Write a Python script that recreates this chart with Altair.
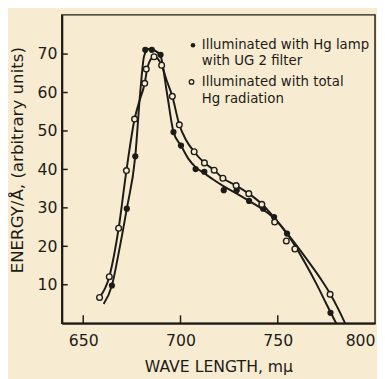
import altair as alt
import pandas as pd

# ---- data ----
# measured points, Hg lamp with UG 2 filter (filled circles)
filt_x = [664.75, 672.4, 676.75, 681.9, 685.25, 689.75, 696.4, 700.25, 707.75,
          712.25, 722.25, 728.9, 735.25, 742.5, 748.1, 754.75, 777.1]
filt_y = [9.8, 29.8, 43.4, 71.1, 71.1, 69.8, 49.7, 46.2, 40.1,
          39.4, 34.6, 34.6, 31.8, 29.8, 27.6, 23.3, 2.7]

# measured points, total Hg radiation (open circles)
tot_x = [658.4, 663.4, 668.2, 672.2, 676.4, 681.6, 682.4, 686.4, 690.3, 695.8,
         699.4, 707.0, 712.3, 717.3, 721.8, 728.6, 735.1, 741.8, 748.4, 754.4,
         758.8, 776.9]
tot_y = [6.7, 12.1, 24.7, 39.7, 53.1, 62.4, 66.1, 69.3, 67.1, 59.0,
         51.6, 44.6, 41.7, 39.8, 37.7, 35.8, 33.7, 30.9, 26.3, 21.4,
         19.3, 7.5]

# hand-drawn curves
filt_curve_x = [660.5, 664.75, 668.5, 672.4, 676.75, 679.3, 681.3, 683.5, 686.5,
                689.75, 693.0, 696.4, 700.25, 704.0, 707.75, 712.25, 717.0,
                722.25, 728.9, 735.25, 742.0, 748.1, 754.75, 760.0, 765.0,
                770.0, 775.0, 780.0]
filt_curve_y = [5.0, 9.8, 19.0, 29.8, 43.4, 60.0, 69.5, 71.3, 71.0,
                69.5, 60.0, 49.7, 46.2, 42.8, 40.6, 39.0, 37.3,
                35.6, 33.7, 31.8, 29.7, 27.3, 23.3, 19.2, 14.8,
                10.1, 5.0, 0.0]

tot_curve_x = [658.4, 663.4, 668.2, 672.2, 676.4, 679.0, 681.6, 682.8, 684.5,
               686.4, 690.3, 693.0, 695.8, 699.4, 703.0, 707.0, 712.3, 717.3,
               721.8, 728.6, 735.1, 741.8, 748.4, 754.4, 760.0, 766.0, 772.0,
               777.0, 781.0, 784.6]
tot_curve_y = [6.7, 12.1, 24.7, 39.7, 53.1, 58.0, 62.4, 66.0, 68.5,
               69.3, 67.1, 63.0, 59.0, 51.6, 47.5, 44.6, 41.7, 39.8,
               37.7, 35.8, 33.7, 31.0, 27.3, 23.6, 20.0, 15.9, 11.6,
               7.6, 3.8, 0.0]

x_ticks = [650, 700, 750, 800]
y_ticks = [10, 20, 30, 40, 50, 60, 70]

legend_lines = ["Illuminated with Hg lamp", "with UG 2 filter",
                "Illuminated with total", "Hg radiation"]

# ---- chart ----
INK = "#1d1b17"
BG = "#f7ecd2"
FONT = "DejaVu Sans"
W, H = 320, 315

xs = alt.Scale(domain=[639, 800], nice=False)
ys = alt.Scale(domain=[0, 80.2], nice=False)

xenc = alt.X("x:Q", scale=xs,
             axis=alt.Axis(values=x_ticks, title="WAVE LENGTH, mμ", ticks=False,
                           grid=False, labelPadding=10, titlePadding=10,
                           format="d"))
yenc = alt.Y("y:Q", scale=ys,
             axis=alt.Axis(values=y_ticks, title="ENERGY/Å, (arbitrary units)",
                           ticks=False, grid=False, labelPadding=5,
                           titleAngle=270, titleAlign="center",
                           titleBaseline="middle", titleX=-45, titleY=148,
                           titleFontSize=17))

df_filt = pd.DataFrame({"x": filt_x, "y": filt_y})
df_tot = pd.DataFrame({"x": tot_x, "y": tot_y})
df_fc = pd.DataFrame({"x": filt_curve_x, "y": filt_curve_y})
df_tc = pd.DataFrame({"x": tot_curve_x, "y": tot_curve_y})

line_f = alt.Chart(df_fc).mark_line(color=INK, strokeWidth=2,
                                    interpolate="monotone").encode(x=xenc, y=yenc)
line_t = alt.Chart(df_tc).mark_line(color=INK, strokeWidth=2,
                                    interpolate="monotone").encode(x="x:Q", y="y:Q")
pts_f = alt.Chart(df_filt).mark_point(shape="circle", filled=True, color=INK,
                                      size=40, opacity=1).encode(x="x:Q", y="y:Q")
pts_t = alt.Chart(df_tot).mark_point(shape="circle", filled=True, fill=BG,
                                     stroke=INK, strokeWidth=1.4, size=34,
                                     opacity=1).encode(x="x:Q", y="y:Q")

xt = alt.Chart(pd.DataFrame({"x": x_ticks[:-1]})).mark_rule(
    color=INK, strokeWidth=1.5).encode(x="x:Q", y=alt.value(H), y2=alt.value(H - 8))
yt = alt.Chart(pd.DataFrame({"y": y_ticks})).mark_rule(
    color=INK, strokeWidth=1.5).encode(y="y:Q", x=alt.value(0), x2=alt.value(6))

one = alt.Data(values=[{"a": 1}])
leg_layers = []
leg_y = [31, 47, 69, 86]
for txt, yy in zip(legend_lines, leg_y):
    leg_layers.append(
        alt.Chart(one).mark_text(text=txt, align="left", baseline="middle",
                                 font=FONT, fontSize=13.6, color=INK)
        .encode(x=alt.value(143), y=alt.value(yy)))
leg_dot = alt.Chart(one).mark_point(shape="circle", filled=True, color=INK,
                                    size=22, opacity=1).encode(
    x=alt.value(134), y=alt.value(31))
leg_open = alt.Chart(one).mark_point(shape="circle", filled=True, fill=BG,
                                     stroke=INK, strokeWidth=1.3, size=22,
                                     opacity=1).encode(
    x=alt.value(132.5), y=alt.value(68.5))

chart = alt.layer(line_f, line_t, pts_f, pts_t, xt, yt, leg_dot, leg_open,
                  *leg_layers).properties(
    width=W, height=H,
    autosize=alt.AutoSizeParams(type="none"),
    padding={"left": 55, "top": 3, "right": 2, "bottom": 53},
    background=BG,
).configure_view(
    stroke=INK, strokeWidth=1.5
).configure_axis(
    domainColor=INK, domainWidth=2, labelColor=INK, titleColor=INK,
    labelFont=FONT, titleFont=FONT, labelFontSize=16, titleFontSize=16,
    titleFontWeight="normal"
)

chart.save("out.html", embed_options={"renderer": "svg", "actions": False})
